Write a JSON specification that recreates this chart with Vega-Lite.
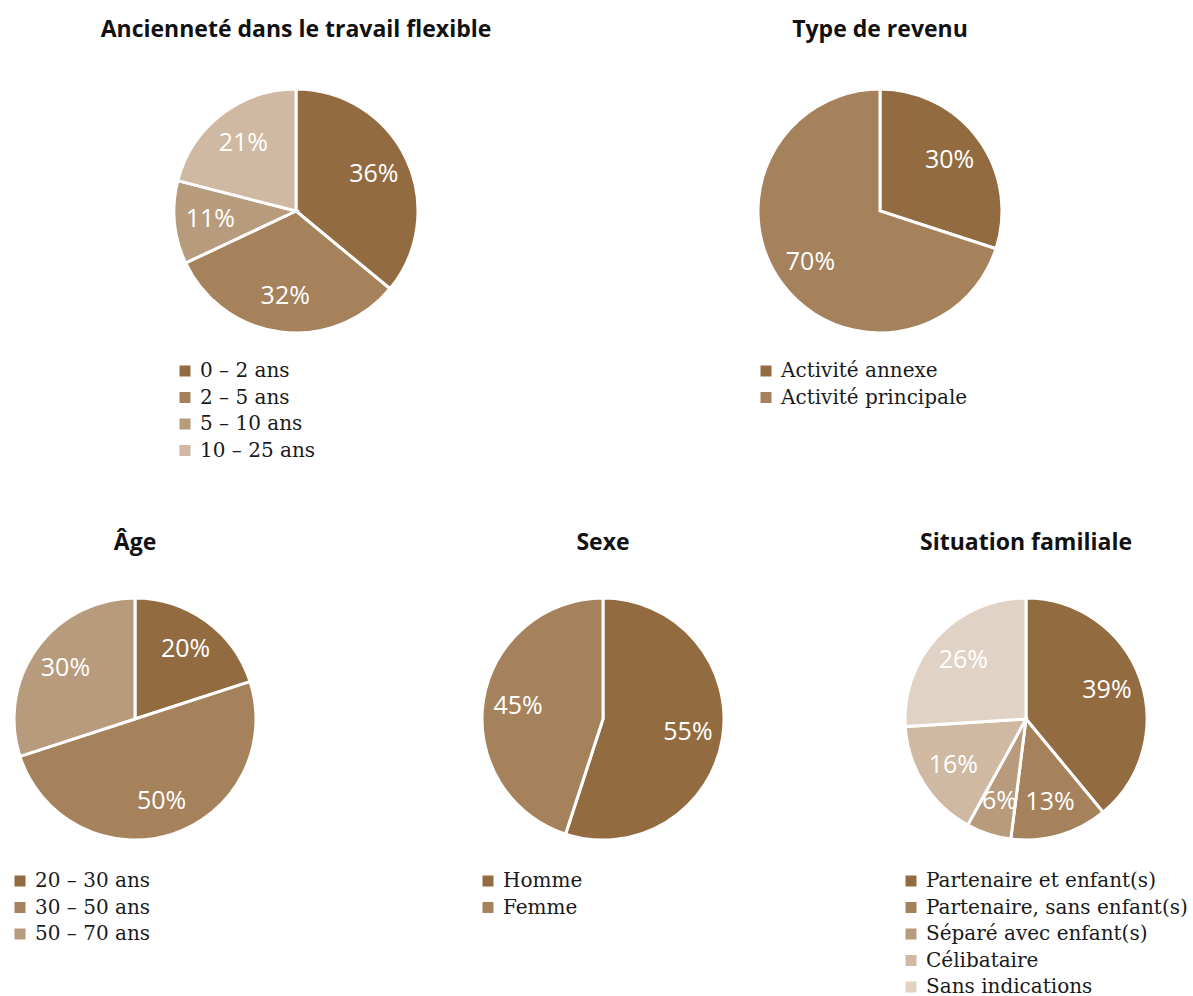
{
  "$schema": "https://vega.github.io/schema/vega-lite/v6.json",
  "background": "white",
  "padding": {"left": 8, "top": 19, "right": 0, "bottom": 0},
  "bounds": "flush",
  "spacing": 509,
  "datasets": {
    "pies": [
      {"chart": "anc", "cat": "0 – 2 ans", "v": 36, "o": 1, "lab": "36%"},
      {"chart": "anc", "cat": "2 – 5 ans", "v": 32, "o": 2, "lab": "32%"},
      {"chart": "anc", "cat": "5 – 10 ans", "v": 11, "o": 3, "lab": "11%"},
      {"chart": "anc", "cat": "10 – 25 ans", "v": 21, "o": 4, "lab": "21%"},
      {"chart": "rev", "cat": "Activité annexe", "v": 30, "o": 1, "lab": "30%"},
      {"chart": "rev", "cat": "Activité principale", "v": 70, "o": 2, "lab": "70%"},
      {"chart": "age", "cat": "20 – 30 ans", "v": 20, "o": 1, "lab": "20%"},
      {"chart": "age", "cat": "30 – 50 ans", "v": 50, "o": 2, "lab": "50%"},
      {"chart": "age", "cat": "50 – 70 ans", "v": 30, "o": 3, "lab": "30%"},
      {"chart": "sexe", "cat": "Homme", "v": 55, "o": 1, "lab": "55%"},
      {"chart": "sexe", "cat": "Femme", "v": 45, "o": 2, "lab": "45%"},
      {"chart": "fam", "cat": "Partenaire et enfant(s)", "v": 39, "o": 1, "lab": "39%"},
      {"chart": "fam", "cat": "Partenaire, sans enfant(s)", "v": 13, "o": 2, "lab": "13%"},
      {"chart": "fam", "cat": "Séparé avec enfant(s)", "v": 6, "o": 3, "lab": "6%"},
      {"chart": "fam", "cat": "Célibataire", "v": 16, "o": 4, "lab": "16%"},
      {"chart": "fam", "cat": "Sans indications", "v": 26, "o": 5, "lab": "26%"}
    ]
  },
  "resolve": {"scale": {"color": "independent", "theta": "independent"}, "legend": {"color": "independent"}},
  "vconcat": [
    {
      "bounds": "flush",
      "spacing": 0,
      "resolve": {"scale": {"color": "independent", "theta": "independent"}, "legend": {"color": "independent"}},
      "hconcat": [
        {
          "width": 564, "height": 244,
          "title": {"text": "Ancienneté dans le travail flexible", "offset": 41},
          "data": {"name": "pies"},
          "transform": [{"filter": "datum.chart === 'anc'"}],
          "encoding": {
            "theta": {"field": "v", "type": "quantitative", "stack": true},
            "order": {"field": "o", "type": "quantitative"}
          },
          "layer": [
            {
              "mark": {"type": "arc", "outerRadius": 122, "stroke": "white", "strokeWidth": 3},
              "encoding": {
                "color": {"field": "cat", "type": "nominal",
                  "scale": {"domain": ["0 – 2 ans", "2 – 5 ans", "5 – 10 ans", "10 – 25 ans"], "range": ["#936b40", "#a5825c", "#b89b7c", "#cfb9a3"]},
                  "legend": {"legendX": 161, "legendY": 272}}
              }
            },
            {
              "mark": {"type": "text", "radius": 86, "fill": "white", "fontSize": 25, "font": "Open Sans", "fontWeight": 400},
              "encoding": {"text": {"field": "lab"}}
            }
          ]
        },
        {
          "width": 604, "height": 244,
          "title": {"text": "Type de revenu", "offset": 41},
          "data": {"name": "pies"},
          "transform": [{"filter": "datum.chart === 'rev'"}],
          "encoding": {
            "theta": {"field": "v", "type": "quantitative", "stack": true},
            "order": {"field": "o", "type": "quantitative"}
          },
          "layer": [
            {
              "mark": {"type": "arc", "outerRadius": 122, "stroke": "white", "strokeWidth": 3},
              "encoding": {
                "color": {"field": "cat", "type": "nominal",
                  "scale": {"domain": ["Activité annexe", "Activité principale"], "range": ["#936b40", "#a5825c"]},
                  "legend": {"legendX": 178, "legendY": 272}}
              }
            },
            {
              "mark": {"type": "text", "radius": 86, "fill": "white", "fontSize": 25, "font": "Open Sans", "fontWeight": 400},
              "encoding": {"text": {"field": "lab"}}
            }
          ]
        }
      ]
    },
    {
      "bounds": "flush",
      "spacing": 0,
      "resolve": {"scale": {"color": "independent", "theta": "independent"}, "legend": {"color": "independent"}},
      "hconcat": [
        {
          "width": 242, "height": 242,
          "title": {"text": "Âge", "offset": 37},
          "data": {"name": "pies"},
          "transform": [{"filter": "datum.chart === 'age'"}],
          "encoding": {
            "theta": {"field": "v", "type": "quantitative", "stack": true},
            "order": {"field": "o", "type": "quantitative"}
          },
          "layer": [
            {
              "mark": {"type": "arc", "outerRadius": 121, "stroke": "white", "strokeWidth": 3},
              "encoding": {
                "color": {"field": "cat", "type": "nominal",
                  "scale": {"domain": ["20 – 30 ans", "30 – 50 ans", "50 – 70 ans"], "range": ["#936b40", "#a5825c", "#b89b7c"]},
                  "legend": {"legendX": -4, "legendY": 273}}
              }
            },
            {
              "mark": {"type": "text", "radius": 86, "fill": "white", "fontSize": 25, "font": "Open Sans", "fontWeight": 400},
              "encoding": {"text": {"field": "lab"}}
            }
          ]
        },
        {
          "width": 694, "height": 242,
          "title": {"text": "Sexe", "offset": 37},
          "data": {"name": "pies"},
          "transform": [{"filter": "datum.chart === 'sexe'"}],
          "encoding": {
            "theta": {"field": "v", "type": "quantitative", "stack": true},
            "order": {"field": "o", "type": "quantitative"}
          },
          "layer": [
            {
              "mark": {"type": "arc", "outerRadius": 121, "stroke": "white", "strokeWidth": 3},
              "encoding": {
                "color": {"field": "cat", "type": "nominal",
                  "scale": {"domain": ["Homme", "Femme"], "range": ["#936b40", "#a5825c"]},
                  "legend": {"legendX": 222, "legendY": 273}}
              }
            },
            {
              "mark": {"type": "text", "radius": 86, "fill": "white", "fontSize": 25, "font": "Open Sans", "fontWeight": 400},
              "encoding": {"text": {"field": "lab"}}
            }
          ]
        },
        {
          "width": 152, "height": 242,
          "title": {"text": "Situation familiale", "offset": 37},
          "data": {"name": "pies"},
          "transform": [{"filter": "datum.chart === 'fam'"}],
          "encoding": {
            "theta": {"field": "v", "type": "quantitative", "stack": true},
            "order": {"field": "o", "type": "quantitative"}
          },
          "layer": [
            {
              "mark": {"type": "arc", "outerRadius": 121, "stroke": "white", "strokeWidth": 3},
              "encoding": {
                "color": {"field": "cat", "type": "nominal",
                  "scale": {"domain": ["Partenaire et enfant(s)", "Partenaire, sans enfant(s)", "Séparé avec enfant(s)", "Célibataire", "Sans indications"], "range": ["#936b40", "#a5825c", "#b89b7c", "#cfb9a3", "#e0d3c5"]},
                  "legend": {"legendX": -49, "legendY": 273}}
              }
            },
            {
              "mark": {"type": "text", "radius": 86, "fill": "white", "fontSize": 25, "font": "Open Sans", "fontWeight": 400},
              "encoding": {"text": {"field": "lab"}}
            }
          ]
        }
      ]
    }
  ],
  "config": {
    "view": {"stroke": null},
    "title": {"font": "Open Sans", "fontSize": 23, "fontWeight": 700, "color": "#111111", "anchor": "middle"},
    "legend": {
      "orient": "none", "title": null, "padding": 0,
      "symbolType": "square", "symbolSize": 121, "symbolStrokeWidth": 0, "symbolOpacity": 1,
      "labelFont": "DejaVu Serif", "labelFontSize": 20, "labelColor": "#1a1a1a",
      "labelOffset": 5, "rowPadding": 6.5, "labelLimit": 400
    }
  }
}
